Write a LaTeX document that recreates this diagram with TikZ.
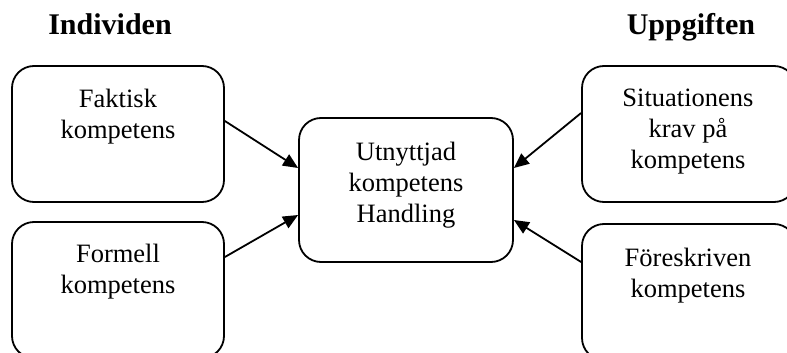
\documentclass[tikz,border=0pt]{standalone}
\usepackage{fontspec}
\setmainfont{Liberation Serif}
\usetikzlibrary{arrows.meta}
\tikzset{
  box/.style={draw, line width=1.8pt, rounded corners=22pt, inner sep=0pt},
  % base anchor of a multi-line label sits on its last line
  lbl/.style={align=center, inner sep=0pt, anchor=base, font=\fontsize{26.5}{31}\selectfont},
  head/.style={inner sep=0pt, anchor=base, font=\fontsize{30}{36}\selectfont\bfseries},
  link/.style={line width=1.8pt, -{Triangle[length=15pt, width=13pt]}}
}
\begin{document}
\begin{tikzpicture}[x=1pt, y=-1pt]
  \useasboundingbox (0,0) rectangle (787,353);
  \clip (0,0) rectangle (787,353);

  % column headings
  \node[head] (hind) at (110,35) {Individen};
  \node[head] (hupp) at (691,35) {Uppgiften};

  % boxes
  \node[box, minimum width=212pt, minimum height=136pt] (fak)  at (118,134) {};
  \node[box, minimum width=212pt, minimum height=136pt] (form) at (118,290) {};
  \node[box, minimum width=214pt, minimum height=144pt] (cen)  at (406,190) {};
  \node[box, minimum width=214pt, minimum height=136pt] (sit)  at (689,134) {};
  \node[box, minimum width=214pt, minimum height=136pt] (fore) at (689,292) {};

  % box texts
  \node[lbl] (tfak)  at (118,138) {Faktisk\\kompetens};
  \node[lbl] (tform) at (118,293) {Formell\\kompetens};
  \node[lbl] (tcen)  at (406,222) {Utnyttjad\\kompetens\\Handling};
  \node[lbl] (tsit)  at (688,168) {Situationens\\krav på\\kompetens};
  \node[lbl] (tfore) at (688,297) {Föreskriven\\kompetens};

  % connectors
  \draw[link] ([yshift=13pt]fak.east)  -- ([yshift=22pt]cen.west);
  \draw[link] ([yshift=33pt]form.east) -- ([yshift=-25pt]cen.west);
  \draw[link] ([yshift=21pt]sit.west)  -- ([yshift=22pt]cen.east);
  \draw[link] ([yshift=30pt]fore.west) -- ([yshift=-30pt]cen.east);
\end{tikzpicture}
\end{document}
